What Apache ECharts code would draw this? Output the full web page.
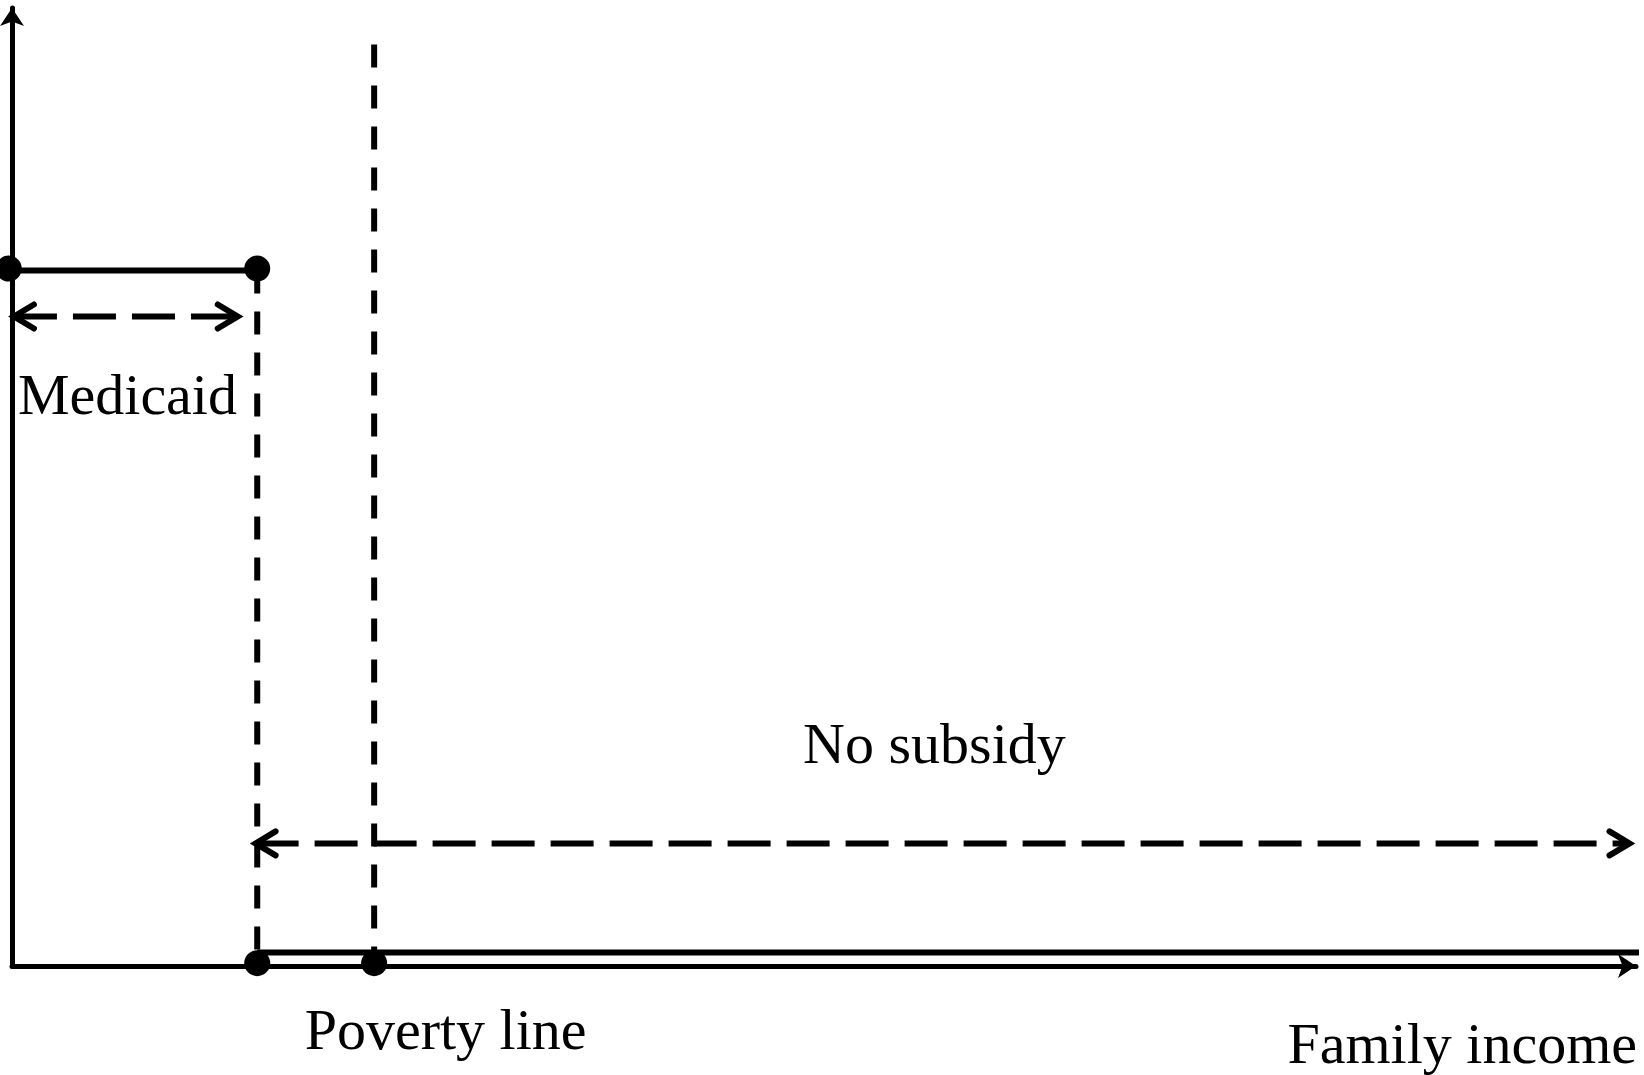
<!DOCTYPE html>
<html>
<head>
<meta charset="utf-8">
<script src="https://cdn.jsdelivr.net/npm/echarts@6/dist/echarts.min.js"></script>
<style>
html,body{margin:0;padding:0;background:#fff;}
#chart{width:1644px;height:1075px;}
</style>
</head>
<body>
<div id="chart"></div>
<script>
// Schematic values (income on x from 0 to 100, subsidy on y from 0 to 100)
const medicaidCut = 15.1;
const povertyLine = 22.3;
const medicaidLevel = 72.6;
const noSubsidyLevel = 1.4;
const povertyTop = 96.2;
const xEnd = 100.5;

// Solid lines
const medicaidLine = [[0, medicaidLevel], [medicaidCut, medicaidLevel]];
const noSubsidyLine = [[medicaidCut, noSubsidyLevel], [xEnd, noSubsidyLevel]];
// Dashed vertical guides
const cutGuide = [[medicaidCut, medicaidLevel], [medicaidCut, noSubsidyLevel]];
const povertyGuide = [[povertyLine, povertyTop], [povertyLine, noSubsidyLevel]];
// Dots
const dotX = [-0.2, medicaidCut, medicaidCut, povertyLine];
const dotY = [72.8, 72.8, 0.3, 0.3];
// Double-headed dashed ranges: [from, to, level]
const rangeFrom = [0.12, 15.0];
const rangeTo = [13.9, 99.6];
const rangeLevel = [67.8, 12.8];
// Text annotations
const labelTexts = ['Medicaid', 'No subsidy', 'Poverty line', 'Family income'];
const labelX = [7.11, 56.8, 26.7, 89.3];
const labelY = [59.2, 22.8, -7.1, -8.5];

const chart = echarts.init(document.getElementById('chart'), null, {renderer: 'canvas'});

const axisCommon = {
  type: 'value',
  min: 0,
  max: 100,
  axisTick: {show: false},
  axisLabel: {show: false},
  splitLine: {show: false}
};
const LW = 6;

const option = {
  backgroundColor: '#fff',
  animation: false,
  grid: {left: 12, right: 8, top: 8, bottom: 109, containLabel: false},
  xAxis: Object.assign({}, axisCommon, {
    axisLine: {show: true, symbol: ['none', 'arrow'], symbolSize: [18, 18], lineStyle: {color: '#000', width: 5}}
  }),
  yAxis: Object.assign({}, axisCommon, {
    axisLine: {show: true, symbol: ['none', 'arrow'], symbolSize: [18, 18], lineStyle: {color: '#000', width: 5}}
  }),
  series: [
    {type: 'line', data: medicaidLine, symbol: 'none', clip: false,
     lineStyle: {color: '#000', width: LW}, z: 3},
    {type: 'line', data: noSubsidyLine, symbol: 'none', clip: false,
     lineStyle: {color: '#000', width: LW}, z: 3},
    {type: 'line', data: cutGuide, symbol: 'none', clip: false,
     lineStyle: {color: '#000', width: LW, type: [23, 18]}, z: 3},
    {type: 'line', data: povertyGuide, symbol: 'none', clip: false,
     lineStyle: {color: '#000', width: LW, type: [23, 18]}, z: 3},
    {type: 'custom', clip: false, z: 4,
     data: rangeFrom.map((v, i) => [v, rangeTo[i], rangeLevel[i]]),
     encode: {x: [0, 1], y: 2},
     renderItem: function (params, api) {
       const y = api.value(2);
       const p1 = api.coord([api.value(0), y]);
       const p2 = api.coord([api.value(1), y]);
       const hl = 20, hw = 12;
       const st = {stroke: '#000', fill: null, lineWidth: LW};
       return {type: 'group', children: [
         {type: 'line', shape: {x1: p1[0], y1: p1[1], x2: p2[0], y2: p2[1]},
          style: {stroke: '#000', lineWidth: LW, lineDash: [43, 16]}},
         {type: 'polyline', shape: {points: [[p1[0] + hl, p1[1] - hw], [p1[0], p1[1]], [p1[0] + hl, p1[1] + hw]]},
          style: Object.assign({lineCap: 'round', lineJoin: 'miter'}, st)},
         {type: 'polyline', shape: {points: [[p2[0] - hl, p2[1] - hw], [p2[0], p2[1]], [p2[0] - hl, p2[1] + hw]]},
          style: Object.assign({lineCap: 'round', lineJoin: 'miter'}, st)}
       ]};
     }
    },
    {type: 'scatter', data: dotX.map((v, i) => [v, dotY[i]]), symbol: 'circle', symbolSize: 26,
     clip: false, itemStyle: {color: '#000', opacity: 1}, z: 5},
    {type: 'scatter', clip: false, symbolSize: 0, z: 6, itemStyle: {opacity: 1},
     data: labelTexts.map((t, i) => ({name: t, value: [labelX[i], labelY[i]]})),
     label: {show: true, position: 'inside', formatter: '{b}', color: '#000', opacity: 1,
             fontFamily: 'Liberation Serif', fontSize: 58, fontWeight: 'normal'}}
  ]
};
chart.setOption(option);
</script>
</body>
</html>
